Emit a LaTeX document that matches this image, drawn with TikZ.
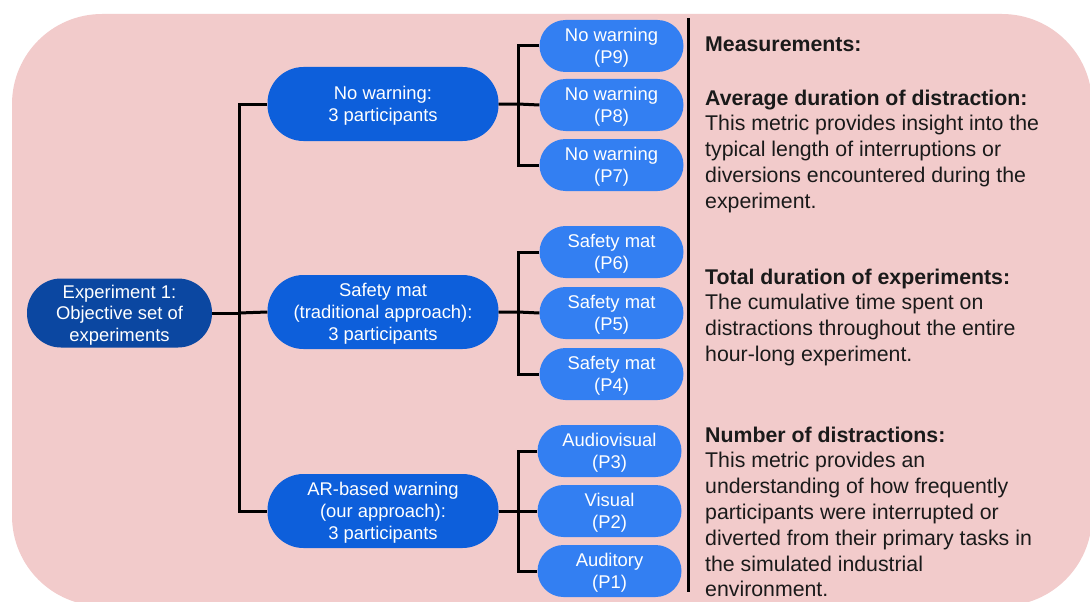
\documentclass[tikz,border=0pt]{standalone}
\usepackage{fontspec}
\setmainfont{Liberation Sans}
\begin{document}
\begin{tikzpicture}[x=1pt,y=-1pt,
  bg/.style={fill=pinkbg,draw=none,rounded corners=90pt},
  rootbox/.style={fill=rootblue,text=white,minimum width=185pt,minimum height=69pt,rounded corners=34pt,align=center,inner sep=0pt,text depth=0pt,font=\fontsize{18.4}{21.5}\selectfont},
  midbox/.style={fill=midblue,text=white,minimum width=231pt,minimum height=74pt,rounded corners=36pt,align=center,inner sep=0pt,text depth=0pt,font=\fontsize{18.4}{22}\selectfont},
  leafbox/.style={fill=leafblue,text=white,minimum width=144pt,minimum height=52pt,rounded corners=26pt,align=center,inner sep=0pt,text depth=0pt,font=\fontsize{18.4}{22}\selectfont},
  conn/.style={draw=black,line width=3pt},
  txt/.style={anchor=north west,align=left,inner sep=0pt,text=textgray,font=\fontsize{21.3}{25.8}\selectfont}
]
\definecolor{pinkbg}{HTML}{F2CBCB}
\definecolor{rootblue}{HTML}{0B47A1}
\definecolor{midblue}{HTML}{0D5FDB}
\definecolor{leafblue}{HTML}{337FF2}
\definecolor{textgray}{HTML}{1A1A1A}
\useasboundingbox (0,0) rectangle (1090,602);
\begin{scope}
\clip (0,0) rectangle (1090,602);
\fill[bg] (12,14) rectangle (1092,606);
\end{scope}

\node[rootbox] (root) at (119.5,313) {Experiment 1:\\Objective set of\\experiments};
\node[midbox] (m1) at (383,104) {No warning:\\3 participants};
\node[midbox] (m2) at (383,312) {Safety mat\\(traditional approach):\\3 participants};
\node[midbox] (m3) at (383,511) {AR-based warning\\(our approach):\\3 participants};

\node[leafbox] (p9) at (611.5,46) {No warning\\(P9)};
\node[leafbox] (p8) at (611.5,105) {No warning\\(P8)};
\node[leafbox] (p7) at (611.5,165) {No warning\\(P7)};
\node[leafbox] (p6) at (611.5,252) {Safety mat\\(P6)};
\node[leafbox] (p5) at (611.5,313) {Safety mat\\(P5)};
\node[leafbox] (p4) at (611.5,374) {Safety mat\\(P4)};
\node[leafbox] (p3) at (609.5,451) {Audiovisual\\(P3)};
\node[leafbox] (p2) at (609.5,511) {Visual\\(P2)};
\node[leafbox] (p1) at (609.5,571) {Auditory\\(P1)};

\coordinate (tr) at (239,313);
\coordinate (tt) at (239,104);
\coordinate (tb) at (239,511);
\draw[conn] (root.east) -- (tr);
\draw[conn] (tt -| m1.west) -- (tt) -- (tb) -- (m3.west);
\draw[conn] (tr) -- (m2.west);

\coordinate (b1) at (518,104);
\coordinate (b1t) at (518,46);
\coordinate (b1b) at (518,165);
\draw[conn] (m1.east) -- (b1) -- (p8.west);
\draw[conn] (p9.west) -- (b1t) -- (b1b) -- (p7.west);

\coordinate (b2) at (518,312);
\coordinate (b2t) at (518,252);
\coordinate (b2b) at (518,374);
\draw[conn] (m2.east) -- (b2) -- (p5.west);
\draw[conn] (p6.west) -- (b2t) -- (b2b) -- (p4.west);

\coordinate (b3) at (518,511);
\coordinate (b3t) at (518,451);
\coordinate (b3b) at (518,571);
\draw[conn] (m3.east) -- (b3) -- (p2.west);
\draw[conn] (p3.west) -- (b3t) -- (b3b) -- (p1.west);

\coordinate (s1) at (688,18);
\coordinate (s2) at (688,592);
\draw[conn] (s1) -- (s2);

\node[txt] (meas) at (705,36.4) {\textbf{Measurements:}};
\node[txt] (avg) at (705,89.4) {\textbf{Average duration of distraction:}\\This metric provides insight into the\\typical length of interruptions or\\diversions encountered during the\\experiment.};
\node[txt] (tot) at (705,268.4) {\textbf{Total duration of experiments:}\\The cumulative time spent on\\distractions throughout the entire\\hour-long experiment.};
\node[txt] (num) at (705,426.4) {\textbf{Number of distractions:}\\This metric provides an\\understanding of how frequently\\participants were interrupted or\\diverted from their primary tasks in\\the simulated industrial\\environment.};
\end{tikzpicture}
\end{document}
